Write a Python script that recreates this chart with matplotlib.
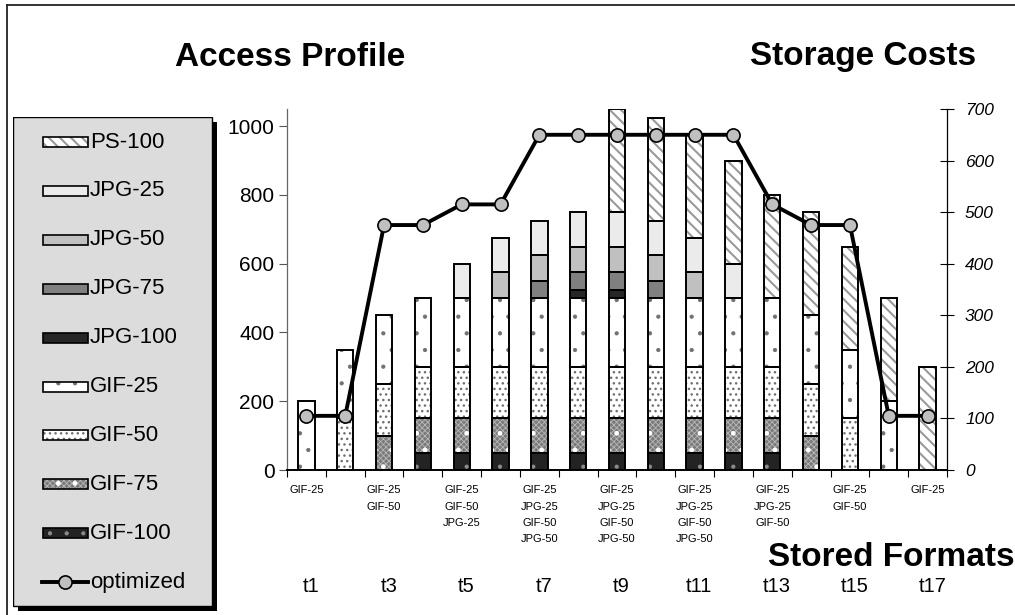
import matplotlib
matplotlib.use("Agg")
import matplotlib.pyplot as plt
from matplotlib.patches import Rectangle
from matplotlib.lines import Line2D
from matplotlib.transforms import blended_transform_factory
import numpy as np

plt.rcParams['font.family'] = ['Liberation Sans', 'DejaVu Sans']

# ---- data -------------------------------------------------------------
periods = [f"t{i}" for i in range(1, 18)]

gif_100 = [0, 0, 0, 50, 50, 50, 50, 50, 50, 50, 50, 50, 50, 0, 0, 0, 0]
gif_75 = [0, 0, 100, 100, 100, 100, 100, 100, 100, 100, 100, 100, 100, 100, 0, 0, 0]
gif_50 = [0, 150, 150, 150, 150, 150, 150, 150, 150, 150, 150, 150, 150, 150, 150, 0, 0]
gif_25 = [200, 200, 200, 200, 200, 200, 200, 200, 200, 200, 200, 200, 200, 200, 200, 200, 0]
jpg_100 = [0, 0, 0, 0, 0, 0, 0, 25, 25, 0, 0, 0, 0, 0, 0, 0, 0]
jpg_75 = [0, 0, 0, 0, 0, 0, 50, 50, 50, 50, 0, 0, 0, 0, 0, 0, 0]
jpg_50 = [0, 0, 0, 0, 0, 75, 75, 75, 75, 75, 75, 0, 0, 0, 0, 0, 0]
jpg_25 = [0, 0, 0, 0, 100, 100, 100, 100, 100, 100, 100, 100, 0, 0, 0, 0, 0]
ps_100 = [0, 0, 0, 0, 0, 0, 0, 0, 300, 300, 300, 300, 300, 300, 300, 300, 300]

optimized = [105, 105, 475, 475, 515, 515, 650, 650, 650, 650, 650, 650,
             515, 475, 475, 105, 105]

# formats stored at every second period
stored_formats = {
    "t1": ["GIF-25"],
    "t3": ["GIF-25", "GIF-50"],
    "t5": ["GIF-25", "GIF-50", "JPG-25"],
    "t7": ["GIF-25", "JPG-25", "GIF-50", "JPG-50"],
    "t9": ["GIF-25", "JPG-25", "GIF-50", "JPG-50"],
    "t11": ["GIF-25", "JPG-25", "GIF-50", "JPG-50"],
    "t13": ["GIF-25", "JPG-25", "GIF-50"],
    "t15": ["GIF-25", "GIF-50"],
    "t17": ["GIF-25"],
}

left_ticks = [0, 200, 400, 600, 800, 1000]
right_ticks = [0, 100, 200, 300, 400, 500, 600, 700]

# stacking order, bottom to top
series = [
    ("GIF-100", gif_100),
    ("GIF-75", gif_75),
    ("GIF-50", gif_50),
    ("GIF-25", gif_25),
    ("JPG-100", jpg_100),
    ("JPG-75", jpg_75),
    ("JPG-50", jpg_50),
    ("JPG-25", jpg_25),
    ("PS-100", ps_100),
]

# each fill is a list of layers: (facecolor, hatch, hatch colour, hatch linewidth)
styles = {
    "PS-100": [("white", None, None, 0), ("none", "\\\\\\", "#9a9a9a", 1.5)],
    "JPG-25": [("#ebebeb", None, None, 0)],
    "JPG-50": [("#c0c0c0", None, None, 0)],
    "JPG-75": [("#808080", None, None, 0)],
    "JPG-100": [("#262626", None, None, 0)],
    "GIF-25": [("white", None, None, 0), ("none", ".", "#707070", 0.6)],
    "GIF-50": [("white", None, None, 0), ("none", "...", "#707070", 1.0)],
    "GIF-75": [("#7a7a7a", None, None, 0), ("none", "xxxxxx", "#b8b8b8", 0.6),
               ("none", ".", "white", 1.0)],
    "GIF-100": [("#232323", None, None, 0), ("none", ".", "#8c8c8c", 0.6)],
}

W, H = 1015, 615
fig = plt.figure(figsize=(W / 100, H / 100), dpi=100)


def fx(px):
    return px / W


def fy(py):
    return 1 - py / H


def style_patch(p, hatch_lw):
    if hasattr(p, "set_hatch_linewidth"):
        p.set_hatch_linewidth(hatch_lw)


ax = fig.add_axes([fx(287), fy(470), fx(947) - fx(287), fy(109) - fy(470)])
x = np.arange(len(periods))
bar_w = 0.42
bottom = np.zeros(len(periods))
for name, vals in series:
    vals = np.array(vals, dtype=float)
    keep = vals > 0
    for fc, hatch, hc, hlw in styles[name]:
        with plt.rc_context({"hatch.linewidth": hlw if hlw else 1.0}):
            bars = ax.bar(x[keep], vals[keep], bottom=bottom[keep], width=bar_w,
                          color=fc, hatch=hatch, edgecolor=hc if hc else "none",
                          linewidth=0, zorder=2)
        for b in bars:
            style_patch(b, hlw if hlw else 1.0)
    ax.bar(x[keep], vals[keep], bottom=bottom[keep], width=bar_w, fill=False,
           edgecolor="black", linewidth=1.4, zorder=3)
    bottom += vals

ax.set_xlim(-0.5, len(periods) - 0.5)
ax.set_ylim(0, 1050)
ax.set_yticks(left_ticks)
ax.set_yticklabels([str(v) for v in left_ticks], fontsize=15)
ax.tick_params(axis="y", direction="out", length=6, width=0.8, pad=3,
               color="#555555")
ax.set_xticks(np.arange(len(periods) + 1) - 0.5)
ax.set_xticklabels([])
ax.tick_params(axis="x", direction="out", length=5, width=0.8)
ax.spines["top"].set_visible(False)
ax.spines["right"].set_visible(False)
ax.spines["left"].set_linewidth(0.9)
ax.spines["left"].set_color("#666666")
ax.spines["bottom"].set_linewidth(1.4)
ax.patch.set_alpha(0)

ax2 = ax.twinx()
ax2.plot(x, optimized, color="black", linewidth=2.8, marker="o", markersize=9.5,
         markerfacecolor="#c0c0c0", markeredgecolor="black", markeredgewidth=1.2,
         zorder=5)
ax2.set_ylim(0, 700)
ax2.set_yticks(right_ticks)
ax2.set_yticklabels([str(v) for v in right_ticks], fontsize=12.5, style="italic")
ax2.tick_params(axis="y", direction="inout", length=10, width=0.8, pad=8)
for s in ("top", "left", "bottom"):
    ax2.spines[s].set_visible(False)
ax2.spines["right"].set_linewidth(0.9)

# stored formats and period labels under the axis
tr = blended_transform_factory(ax.transData, fig.transFigure)
for i, p in enumerate(periods):
    if p in stored_formats:
        for r, fmt in enumerate(stored_formats[p]):
            ax.text(i, fy(490 + 16.5 * r), fmt, transform=tr, ha="center",
                    va="center", fontsize=8)
        ax.text(i + 0.12, fy(586), p, transform=tr, ha="center", va="center",
                fontsize=14.5)

# headings
fig.text(fx(175), fy(57), "Access Profile", ha="left", va="center",
         fontsize=24, fontweight="bold")
fig.text(fx(976), fy(57), "Storage Costs", ha="right", va="center",
         fontsize=24, fontweight="bold")
fig.text(fx(768), fy(557), "Stored Formats", ha="left", va="center",
         fontsize=24, fontweight="bold")

# outer frame
fig.add_artist(Line2D([fx(7), fx(7)], [fy(5), fy(620)], color="#222222", lw=1.3))
fig.add_artist(Line2D([fx(7), fx(1030)], [fy(5), fy(5)], color="#222222", lw=1.3))

# legend panel with drop shadow, laid out in pixel units
lax = fig.add_axes([fx(13), fy(612), fx(218) - fx(13), fy(117) - fy(612)])
lax.set_xlim(13, 218)
lax.set_ylim(612, 117)
lax.axis("off")
lax.add_patch(Rectangle((18, 122), 199, 489, facecolor="black", edgecolor="none"))
lax.add_patch(Rectangle((13, 117), 199, 489, facecolor="#dcdcdc",
                        edgecolor="black", linewidth=1.0))

legend_order = ["PS-100", "JPG-25", "JPG-50", "JPG-75", "JPG-100",
                "GIF-25", "GIF-50", "GIF-75", "GIF-100"]
row_y = 142
for name in legend_order:
    for fc, hatch, hc, hlw in styles[name]:
        with plt.rc_context({"hatch.linewidth": hlw if hlw else 1.0}):
            r = Rectangle((43, row_y - 5), 45, 10, facecolor=fc, hatch=hatch,
                          edgecolor=hc if hc else "none", linewidth=0)
        style_patch(r, hlw if hlw else 1.0)
        lax.add_patch(r)
    lax.add_patch(Rectangle((43, row_y - 5), 45, 10, fill=False,
                            edgecolor="black", linewidth=1.2))
    lax.text(90, row_y, name, ha="left", va="center", fontsize=16)
    row_y += 48.9

lax.plot([42, 88], [row_y, row_y], color="black", linewidth=2.8)
lax.plot([65], [row_y], marker="o", markersize=9.5, markerfacecolor="#c0c0c0",
         markeredgecolor="black", markeredgewidth=1.2)
lax.text(90, row_y, "optimized", ha="left", va="center", fontsize=16)

fig.savefig("out.png", dpi=100)
